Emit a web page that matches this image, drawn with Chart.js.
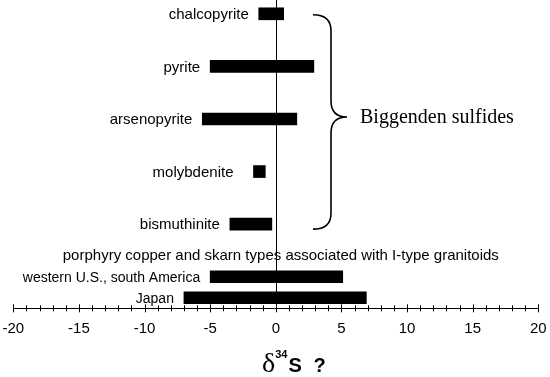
<!DOCTYPE html>
<html>
<head>
<meta charset="utf-8">
<script src="https://cdn.jsdelivr.net/npm/chart.js@4.4.0/dist/chart.umd.min.js"></script>
<style>
html, body { margin: 0; padding: 0; background: #fff; }
#wrap { width: 550px; height: 377px; position: relative; }
</style>
</head>
<body>
<div id="wrap"><canvas id="graph"></canvas></div>
<script>
// d34S ranges (per mil)
var minerals = ['chalcopyrite', 'pyrite', 'arsenopyrite', 'molybdenite', 'bismuthinite'];
var mineralMin = [-1.3, -5.0, -5.6, -1.7, -3.5];
var mineralMax = [0.6, 2.9, 1.6, -0.8, -0.3];
var regions = ['western U.S., south America', 'Japan'];
var regionMin = [-5.0, -7.0];
var regionMax = [5.1, 6.9];
var xTicks = [-20, -15, -10, -5, 0, 5, 10, 15, 20];
var groupLabel = 'Biggenden sulfides';
var regionHeading = 'porphyry copper and skarn types associated with I-type granitoids';

// Rows on the category axis (blank slots keep the spacing)
var SLOTS = 29;
var rows = [];
var ranges = [];
var kinds = [];
for (var i = 0; i < SLOTS; i++) {
    rows.push('');
    ranges.push(null);
    kinds.push('');
}
minerals.forEach(function (m, i) {
    rows[i * 5] = m;
    ranges[i * 5] = [mineralMin[i], mineralMax[i]];
    kinds[i * 5] = 'mineral';
});
rows[23] = regionHeading;
kinds[23] = 'heading';
regions.forEach(function (r, i) {
    rows[25 + i * 2] = r;
    ranges[25 + i * 2] = [regionMin[i], regionMax[i]];
    kinds[25 + i * 2] = 'region';
});

var SANS = '"Liberation Sans", Arial, sans-serif';
var SERIF = '"Liberation Serif", "Times New Roman", serif';

// Zero line, crossing ticks, labels, brace and axis title
var decorations = {
    id: 'decorations',
    beforeDatasetsDraw: function (chart) {
        var ctx = chart.ctx;
        var x = chart.scales.x;
        var area = chart.chartArea;
        ctx.save();
        ctx.strokeStyle = '#000';
        ctx.lineWidth = 1;
        var x0 = Math.round(x.getPixelForValue(0)) + 0.5;
        ctx.beginPath();
        ctx.moveTo(x0, 0);
        ctx.lineTo(x0, area.bottom);
        ctx.stroke();
        ctx.restore();
    },
    afterDraw: function (chart) {
        var ctx = chart.ctx;
        var x = chart.scales.x;
        var y = chart.scales.y;
        var area = chart.chartArea;
        ctx.save();
        ctx.strokeStyle = '#000';
        ctx.fillStyle = '#000';
        ctx.lineWidth = 1;

        // tick marks crossing the axis
        x.ticks.forEach(function (t) {
            var px = Math.round(x.getPixelForValue(t.value)) + 0.5;
            var len = xTicks.indexOf(t.value) >= 0 ? 4 : 3;
            ctx.beginPath();
            ctx.moveTo(px, area.bottom - len);
            ctx.lineTo(px, area.bottom + len);
            ctx.stroke();
        });

        // bar labels, right aligned to each bar's start
        var meta = chart.getDatasetMeta(0);
        ctx.textAlign = 'right';
        ctx.textBaseline = 'middle';
        meta.data.forEach(function (bar, i) {
            if (!ranges[i]) return;
            ctx.font = (kinds[i] === 'mineral' ? '15px ' : '14px ') + SANS;
            var left = Math.min(bar.x, bar.base);
            // the molybdenite label sits further out in the original
            var gap = rows[i] === 'molybdenite' ? 20 : 10;
            ctx.fillText(rows[i], left - gap, bar.y + 1);
        });

        // heading for the region rows
        ctx.textAlign = 'center';
        ctx.font = '15px ' + SANS;
        ctx.fillText(regionHeading, (area.left + area.right) / 2 + 5, y.getPixelForValue(23));

        // brace around the mineral rows
        var yTop = y.getPixelForValue(0) + 1;
        var yBot = y.getPixelForValue(20) + 5;
        var yTip = y.getPixelForValue(10) - 2;
        var bx0 = 313, bxm = 331, bxt = 347, r = 16;
        ctx.lineWidth = 1.6;
        ctx.beginPath();
        ctx.moveTo(bx0, yTop);
        ctx.quadraticCurveTo(bxm, yTop, bxm, yTop + r);
        ctx.lineTo(bxm, yTip - r);
        ctx.quadraticCurveTo(bxm, yTip, bxt, yTip);
        ctx.quadraticCurveTo(bxm, yTip, bxm, yTip + r);
        ctx.lineTo(bxm, yBot - r);
        ctx.quadraticCurveTo(bxm, yBot, bx0, yBot);
        ctx.stroke();

        ctx.textAlign = 'left';
        ctx.textBaseline = 'middle';
        ctx.font = '20px ' + SERIF;
        ctx.fillText(groupLabel, 360, yTip + 1);

        // axis title: delta 34 S ?
        ctx.textBaseline = 'alphabetic';
        var tx = 262;
        var base = 372;
        ctx.font = '28px ' + SERIF;
        ctx.fillText('\u03b4', tx, base);
        tx += ctx.measureText('\u03b4').width;
        ctx.font = 'bold 11px ' + SANS;
        ctx.fillText('34', tx, base - 14);
        tx += ctx.measureText('34').width + 1;
        ctx.font = 'bold 20px ' + SANS;
        ctx.fillText('S', tx, base);
        ctx.fillText('?', tx + 25, base);
        ctx.restore();
    }
};

new Chart(document.getElementById('graph'), {
    type: 'bar',
    data: {
        labels: rows,
        datasets: [{
            data: ranges,
            backgroundColor: '#000',
            borderWidth: 0,
            barThickness: 12,
            clip: false
        }]
    },
    options: {
        indexAxis: 'y',
        responsive: true,
        maintainAspectRatio: false,
        animation: false,
        devicePixelRatio: 1,
        layout: {
            padding: { left: 13.3, right: 11.7, top: 13.8, bottom: 38.7 }
        },
        plugins: {
            legend: { display: false },
            tooltip: { enabled: false }
        },
        scales: {
            x: {
                type: 'linear',
                min: -20,
                max: 20,
                grid: { display: true, drawOnChartArea: false, drawTicks: false },
                border: { display: true, color: '#000', width: 1 },
                ticks: {
                    stepSize: 1,
                    autoSkip: false,
                    maxRotation: 0,
                    padding: 12,
                    color: '#000',
                    font: { family: SANS, size: 15 },
                    callback: function (value) {
                        return xTicks.indexOf(value) >= 0 ? String(value) : '';
                    }
                },
                afterFit: function (scale) {
                    scale.height = 30;
                    scale.paddingLeft = 0;
                    scale.paddingRight = 0;
                }
            },
            y: {
                type: 'category',
                display: false,
                offset: false,
                grid: { display: false }
            }
        }
    },
    plugins: [decorations]
});
</script>
</body>
</html>
